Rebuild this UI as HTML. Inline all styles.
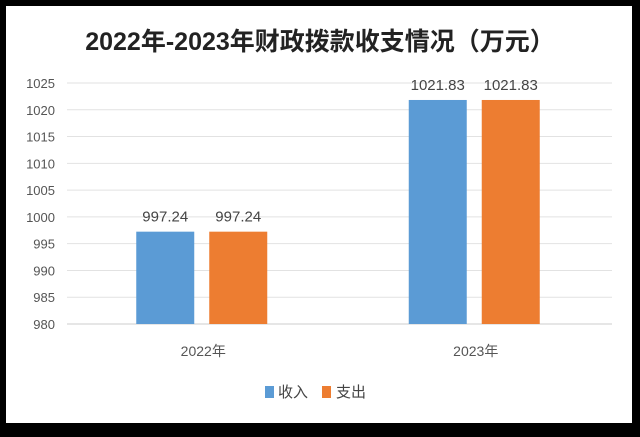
<!DOCTYPE html>
<html><head><meta charset="utf-8"><style>
body{margin:0;background:#000;width:640px;height:432px;overflow:hidden}
svg text{font-family:"Liberation Sans","Noto Sans CJK SC",sans-serif}
</style></head><body>
<svg width="640" height="432">
<rect x="6" y="6" width="626" height="417" fill="#fff"/>
<text x="320" y="50" text-anchor="middle" font-size="25" font-weight="bold" fill="#222">2022年-2023年财政拨款收支情况（万元）</text>
<g id="grid"></g><g id="bars"></g><g id="labels"></g>
<g>
<rect x="265" y="386" width="9" height="12" fill="#5b9bd5"/>
<text x="278" y="397" font-size="15" fill="#444">收入</text>
<rect x="322" y="386" width="9" height="12" fill="#ed7d31"/>
<text x="336" y="397" font-size="15" fill="#444">支出</text>
</g>
</svg>
<script>
const categories=["2022年","2023年"];
const income=[997.24,1021.83];
const expense=[997.24,1021.83];
const ticks=[980,985,990,995,1000,1005,1010,1015,1020,1025];
const ns="http://www.w3.org/2000/svg";
const x0=67,x1=612,yMin=980,yMax=1025,py0=324,py1=83;
const y=v=>py0-(v-yMin)/(yMax-yMin)*(py0-py1);
function mk(t,a,p){const e=document.createElementNS(ns,t);for(const k in a)e.setAttribute(k,a[k]);p.appendChild(e);return e;}
const grid=document.getElementById('grid'),bars=document.getElementById('bars'),labels=document.getElementById('labels');
ticks.forEach(t=>{
 const l=mk('line',{x1:x0,x2:x1,y1:y(t),y2:y(t),stroke:t===yMin?'#ccc':'#e2e2e2','stroke-width':1},grid);
 
 
 const tx=mk('text',{x:55,y:y(t)+5,'text-anchor':'end','font-size':13,fill:'#555'},grid);
 tx.textContent=t;
 
 
});
const bw=(x1-x0)/categories.length;
categories.forEach((c,i)=>{
 const cx=x0+bw*(i+0.5);
 [[income,'#5b9bd5',-1,'bar-income'],[expense,'#ed7d31',1,'bar-expense']].forEach(([s,col,d,n])=>{
  const bx=d<0?cx-67:cx+6;
  const r=mk('rect',{x:bx,y:y(s[i]),width:58,height:py0-y(s[i]),fill:col},bars);
  
  
  const t=mk('text',{x:bx+29,y:y(s[i])-10,'text-anchor':'middle','font-size':15,fill:'#444'},labels);
  t.textContent=s[i].toFixed(2);
  
  
 });
 const t=mk('text',{x:cx,y:356,'text-anchor':'middle','font-size':14,fill:'#555'},labels);
 t.textContent=c;
 
 
});
</script>
</body></html>
